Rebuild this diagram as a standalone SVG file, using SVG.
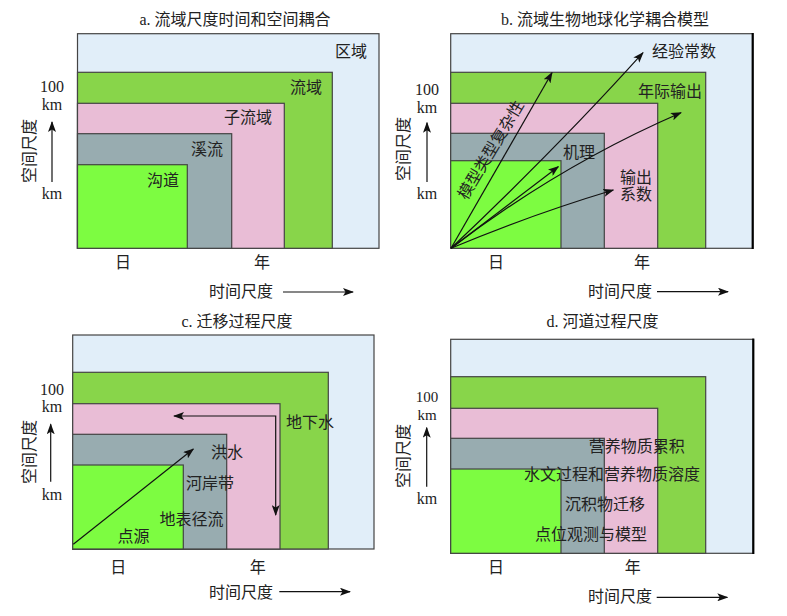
<svg xmlns="http://www.w3.org/2000/svg" width="787" height="616" viewBox="0 0 787 616">
<defs>
<marker id="ah" markerUnits="userSpaceOnUse" markerWidth="11" markerHeight="8" refX="10" refY="4" orient="auto-start-reverse"><path d="M0,0 L11,4 L0,8 L2.5,4 z" fill="#111"/></marker>
</defs>
<style>
text{font-family:"Liberation Serif","Noto Sans CJK SC",serif;font-size:16px;fill:#222}
.bg{fill:#E1EEF9;stroke:#444;stroke-width:1.2}
.g{fill:#88D54A;stroke:#444;stroke-width:1.2}
.p{fill:#E9BDD6;stroke:#444;stroke-width:1.2}
.y{fill:#98ACB0;stroke:#444;stroke-width:1.2}
.l{fill:#7DFC41;stroke:#444;stroke-width:1.2}
.ln{fill:none;stroke:#111;stroke-width:1.2;marker-end:url(#ah)}
.m{text-anchor:middle}
.e{text-anchor:end}
.s{font-size:15px}
</style>
<rect width="787" height="616" fill="#fff"/>

<!-- Panel a -->
<g id="panel-a">
<text class="m" x="235" y="25">a. 流域尺度时间和空间耦合</text>
<g id="a-region"><rect class="bg" x="77.5" y="33.7" width="301.5" height="214.6"/><text class="e" x="367" y="57">区域</text></g>
<g id="a-basin"><rect class="g" x="77.5" y="72.3" width="254.8" height="176"/><text class="e" x="322" y="93">流域</text></g>
<g id="a-subbasin"><rect class="p" x="77.5" y="103.3" width="206.8" height="145"/><text class="e" x="272" y="123">子流域</text></g>
<g id="a-stream"><rect class="y" x="77.5" y="133.7" width="154.2" height="114.6"/><text class="e" x="223" y="155">溪流</text></g>
<g id="a-channel"><rect class="l" x="77.5" y="164.7" width="109.8" height="83.6"/><text class="e" x="179" y="186">沟道</text></g>
<g id="a-axes">
<text class="m" x="52" y="92">100</text><text class="m" x="52" y="110">km</text><text class="m" x="52" y="199">km</text>
<text class="m" transform="translate(29,151) rotate(-90)" dominant-baseline="central">空间尺度</text>
<text class="m" x="123" y="268">日</text><text class="m" x="262" y="268">年</text>
<text class="m" x="241" y="297">时间尺度</text>
</g>
</g>
<g id="a-connectors">
<line class="ln" x1="52" y1="182" x2="52" y2="122"/>
<line class="ln" x1="283" y1="292" x2="353" y2="292"/>
</g>

<!-- Panel b -->
<g id="panel-b">
<text class="m" x="605" y="25">b. 流域生物地球化学耦合模型</text>
<g id="b-empirical"><rect class="bg" x="450.7" y="33.7" width="302" height="214.6"/><line x1="752.7" y1="33" x2="752.7" y2="249" stroke="#000" stroke-width="2.2"/><text x="652" y="57">经验常数</text></g>
<g id="b-annual"><rect class="g" x="450.7" y="72.3" width="255" height="176"/><text class="e" x="702" y="97">年际输出</text></g>
<g id="b-export"><rect class="p" x="450.7" y="103.3" width="207" height="145"/><text x="620" y="183">输出</text><text x="620" y="200">系数</text></g>
<g id="b-mech"><rect class="y" x="450.7" y="133.3" width="153.6" height="115"/><text x="563" y="158">机理</text></g>
<g id="b-inner"><rect class="l" x="450.7" y="160.7" width="110.3" height="87.6"/></g>
<g id="b-axes">
<text class="m" x="427" y="95">100</text><text class="m" x="427" y="112.7">km</text><text class="m" x="427" y="199">km</text>
<text class="m" transform="translate(403,149) rotate(-90)" dominant-baseline="central">空间尺度</text>
<text class="m" x="496" y="268">日</text><text class="m" x="642" y="268">年</text>
<text class="m" x="620" y="297">时间尺度</text>
<text class="m" transform="translate(491,150) rotate(-59)" dominant-baseline="central">模型类型复杂性</text>
</g>
</g>
<g id="b-connectors">
<line class="ln" x1="427" y1="182" x2="427" y2="122.7"/>
<line class="ln" x1="657" y1="291.7" x2="728" y2="291.7"/>
<line class="ln" x1="451" y1="248.3" x2="552" y2="72.7"/>
<path class="ln" d="M451,248.3 Q560,145 643,52.7"/>
<path class="ln" d="M451,248.3 Q560,165 681,112.7"/>
<line class="ln" x1="451" y1="248.3" x2="558.3" y2="166.7"/>
<path class="ln" d="M451,248.3 Q530,215 613.3,190"/>
</g>

<!-- Panel c -->
<g id="panel-c">
<text class="m" x="237" y="326.7">c. 迁移过程尺度</text>
<g id="c-outer"><rect class="bg" x="72.7" y="335" width="301.3" height="214"/></g>
<g id="c-groundwater"><rect class="g" x="72.7" y="372.3" width="255.6" height="176.7"/></g>
<g id="c-flood"><rect class="p" x="72.7" y="403.7" width="207.3" height="145.3"/></g>
<g id="c-riparian"><rect class="y" x="72.7" y="434.3" width="154" height="114.7"/></g>
<g id="c-point"><rect class="l" x="72.7" y="465" width="110.6" height="84"/></g>
<g id="c-labels">
<text x="286" y="428.3">地下水</text>
<text x="211" y="458.3">洪水</text>
<text x="186" y="489">河岸带</text>
<text x="159.5" y="525">地表径流</text>
<text x="117.5" y="541.7">点源</text>
</g>
<g id="c-axes">
<text class="m" x="52" y="395">100</text><text class="m" x="52" y="412.3">km</text><text class="m" x="52" y="500">km</text>
<text class="m" transform="translate(29.3,452) rotate(-90)" dominant-baseline="central">空间尺度</text>
<text class="m" x="118.3" y="573.3">日</text><text class="m" x="257.7" y="573.3">年</text>
<text class="m" x="241" y="597.7">时间尺度</text>
</g>
</g>
<g id="c-connectors">
<line class="ln" x1="50.7" y1="481.7" x2="50.7" y2="424.3"/>
<line class="ln" x1="279.3" y1="591.7" x2="350" y2="591.7"/>
<line class="ln" x1="73.3" y1="544.3" x2="193.3" y2="449"/>
<path class="ln" d="M174,416 H275.7 V515" style="marker-start:url(#ah)"/>
</g>

<!-- Panel d -->
<g id="panel-d">
<text class="m" x="602.5" y="326.7">d. 河道过程尺度</text>
<g id="d-outer"><rect class="bg" x="450.7" y="339.3" width="302.6" height="214"/><line x1="753.3" y1="338.6" x2="753.3" y2="554" stroke="#000" stroke-width="2.2"/></g>
<g id="d-green"><rect class="g" x="450.7" y="376.7" width="255" height="176.6"/></g>
<g id="d-pink"><rect class="p" x="450.7" y="408.3" width="207" height="145"/></g>
<g id="d-gray"><rect class="y" x="450.7" y="438.3" width="153.6" height="115"/></g>
<g id="d-lime"><rect class="l" x="450.7" y="469" width="110.3" height="84.3"/></g>
<g id="d-labels">
<text class="m" x="636.7" y="451.7">营养物质累积</text>
<text class="m" x="612" y="480">水文过程和营养物质溶度</text>
<text class="m" x="605" y="510">沉积物迁移</text>
<text class="m" x="591" y="540">点位观测与模型</text>
</g>
<g id="d-axes">
<text class="m s" x="427" y="401.5">100</text><text class="m s" x="427" y="419.5">km</text><text class="m" x="427" y="504">km</text>
<text class="m" transform="translate(403.3,456) rotate(-90)" dominant-baseline="central">空间尺度</text>
<text class="m" x="496" y="573.3">日</text><text class="m" x="632.7" y="573.3">年</text>
<text class="m" x="620" y="601.7">时间尺度</text>
</g>
</g>
<g id="d-connectors">
<line class="ln" x1="426.7" y1="486.7" x2="426.7" y2="427.7"/>
<line class="ln" x1="656.7" y1="597.3" x2="727.3" y2="597.3"/>
</g>
</svg>
